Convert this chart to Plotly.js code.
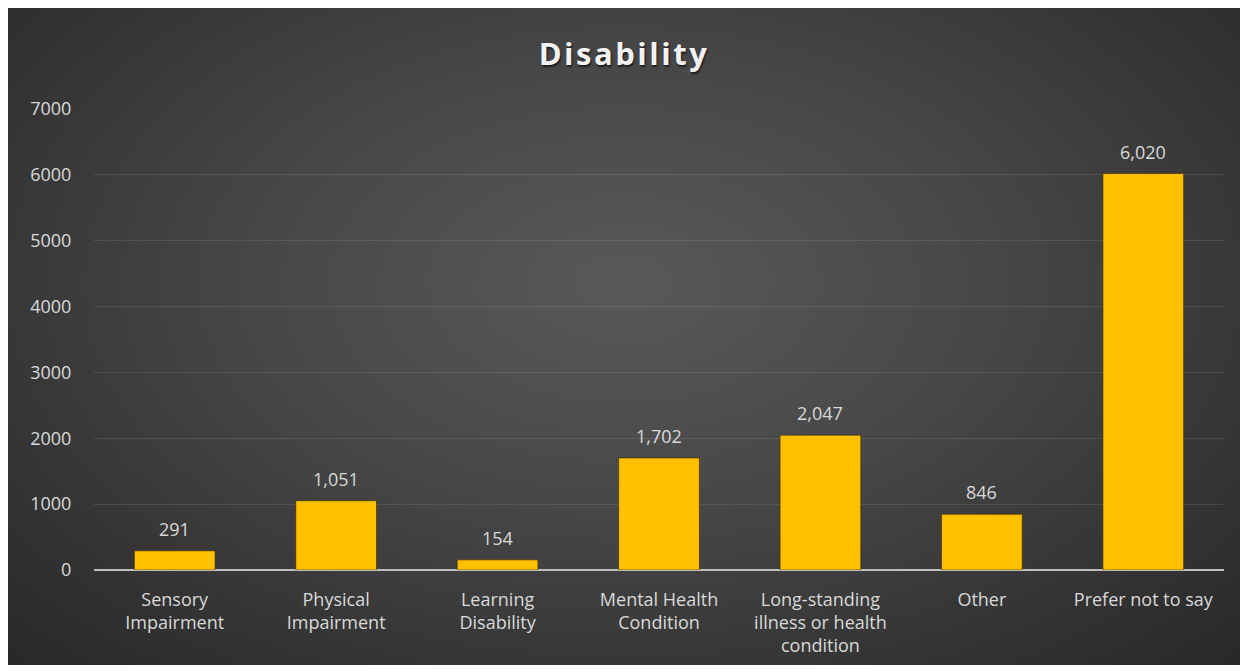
<!DOCTYPE html>
<html>
<head>
<meta charset="utf-8">
<script src="https://cdn.plot.ly/plotly-3.0.1.min.js"></script>
<style>
  html, body { margin: 0; padding: 0; background: #ffffff; width: 1245px; height: 671px; overflow: hidden; }
  #panel {
    position: absolute; left: 8px; top: 8px; width: 1232px; height: 657px;
    background: radial-gradient(ellipse 75% 85% at 50% 42%, #595959 0%, #474747 40%, #333333 75%, #262626 100%);
  }
  #chart { width: 1232px; height: 657px; }
  .gtitle { letter-spacing: 2.5px; text-shadow: 1px 2px 2px rgba(0,0,0,0.6); }
</style>
</head>
<body>
<div id="panel"><div id="chart"></div></div>
<script>
const categories = [
  "Sensory<br>Impairment",
  "Physical<br>Impairment",
  "Learning<br>Disability",
  "Mental Health<br>Condition",
  "Long-standing<br>illness or health<br>condition",
  "Other",
  "Prefer not to say"
];
const counts = [291, 1051, 154, 1702, 2047, 846, 6020];
const yTicks = [0, 1000, 2000, 3000, 4000, 5000, 6000, 7000];

const labelColor = '#d9d9d9';
const font = 'Open Sans, Noto Sans, sans-serif';

const trace = {
  type: 'bar',
  x: categories,
  y: counts,
  marker: { color: '#ffc000', line: { color: 'rgba(60,40,0,0.6)', width: 1 } },
  hoverinfo: 'skip'
};

const annotations = categories.map((c, i) => ({
  x: c,
  y: counts[i],
  xref: 'x', yref: 'y',
  text: counts[i].toLocaleString('en-US'),
  showarrow: false,
  yanchor: 'bottom',
  yshift: 8,
  font: { color: labelColor, size: 18, family: font }
}));

const layout = {
  width: 1232,
  height: 657,
  paper_bgcolor: 'rgba(0,0,0,0)',
  plot_bgcolor: 'rgba(0,0,0,0)',
  margin: { l: 86, r: 16, t: 101, b: 95 },
  bargap: 0.5,
  showlegend: false,
  annotations: annotations,
  title: {
    text: '<b>Disability</b>',
    x: 0.5, xanchor: 'center',
    y: 0.93, yanchor: 'middle', yref: 'container',
    font: { family: font, size: 31, color: '#f2f2f2' }
  },
  xaxis: {
    type: 'category',
    showgrid: false,
    showline: false,
    zeroline: false,
    ticks: 'outside', ticklen: 13, tickcolor: 'rgba(0,0,0,0)',
    tickfont: { color: labelColor, size: 18, family: font },
    fixedrange: true
  },
  yaxis: {
    range: [0, 7000],
    tickvals: yTicks,
    ticktext: yTicks.map(String),
    showgrid: true,
    gridcolor: 'rgba(255,255,255,0.1)',
    gridwidth: 1,
    zeroline: true,
    zerolinecolor: '#bfbfbf',
    zerolinewidth: 2,
    showline: false,
    ticks: 'outside', ticklen: 18, tickcolor: 'rgba(0,0,0,0)',
    tickfont: { color: labelColor, size: 18, family: font },
    fixedrange: true
  }
};

Plotly.newPlot('chart', [trace], layout, { displayModeBar: false, staticPlot: true });
</script>
</body>
</html>
